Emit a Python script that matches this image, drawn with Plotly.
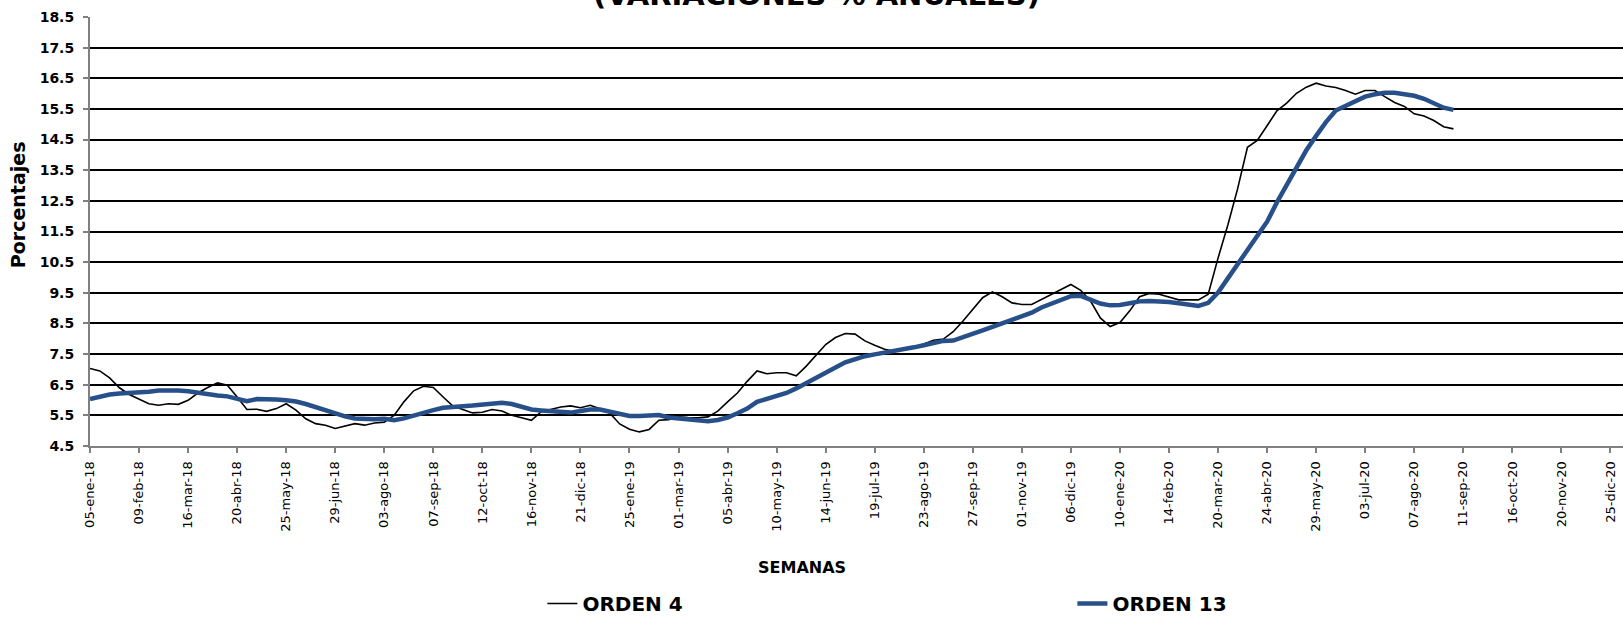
import pandas as pd
import plotly.graph_objects as go

start_date = "2018-01-05"
n_weeks = 140
weeks = pd.date_range(start=start_date, periods=n_weeks, freq="7D")

orden4 = [
    7.03, 6.95, 6.72, 6.40, 6.18, 6.02, 5.88, 5.83, 5.88, 5.86,
    5.99, 6.23, 6.41, 6.56, 6.48, 6.10, 5.69, 5.70, 5.63, 5.72,
    5.88, 5.67, 5.39, 5.23, 5.18, 5.07, 5.14, 5.23, 5.18, 5.25,
    5.28, 5.50, 5.94, 6.30, 6.45, 6.41, 6.10, 5.80, 5.69, 5.58,
    5.60, 5.69, 5.64, 5.50, 5.42, 5.34, 5.62, 5.70, 5.77, 5.81,
    5.75, 5.83, 5.72, 5.57, 5.22, 5.05, 4.96, 5.04, 5.34, 5.36,
    5.45, 5.43, 5.42, 5.45, 5.64, 5.94, 6.23, 6.61, 6.95, 6.86,
    6.89, 6.89, 6.79, 7.10, 7.46, 7.81, 8.04, 8.17, 8.15, 7.93,
    7.79, 7.66, 7.59, 7.68, 7.71, 7.84, 7.95, 7.99, 8.23, 8.58,
    8.96, 9.34, 9.53, 9.37, 9.17, 9.12, 9.12, 9.28, 9.46, 9.61,
    9.77, 9.58, 9.23, 8.68, 8.40, 8.53, 8.91, 9.37, 9.48, 9.45,
    9.37, 9.27, 9.27, 9.27, 9.45, 10.63, 11.71, 12.90, 14.25, 14.47,
    14.95, 15.44, 15.69, 16.01, 16.21, 16.34, 16.25, 16.20, 16.10, 15.98,
    16.10, 16.10, 15.90, 15.71, 15.58, 15.34, 15.27, 15.12, 14.92, 14.85,
]

orden13 = [
    6.03, 6.12, 6.18, 6.21, 6.22, 6.23, 6.27, 6.31, 6.32, 6.31,
    6.29, 6.24, 6.18, 6.15, 6.12, 6.05, 5.96, 6.03, 6.04, 6.02,
    5.99, 5.95, 5.87, 5.77, 5.66, 5.56, 5.47, 5.40, 5.37, 5.37,
    5.39, 5.34, 5.40, 5.50, 5.58, 5.67, 5.75, 5.79, 5.80, 5.82,
    5.85, 5.89, 5.91, 5.87, 5.78, 5.69, 5.66, 5.63, 5.60, 5.59,
    5.64, 5.69, 5.69, 5.61, 5.53, 5.48, 5.48, 5.48, 5.51, 5.43,
    5.40, 5.36, 5.33, 5.31, 5.35, 5.43, 5.57, 5.72, 5.94, 6.03,
    6.12, 6.23, 6.38, 6.54, 6.72, 6.89, 7.06, 7.23, 7.34, 7.43,
    7.49, 7.54, 7.59, 7.65, 7.72, 7.79, 7.86, 7.93, 7.94, 8.04,
    8.15, 8.27, 8.39, 8.50, 8.61, 8.73, 8.85, 9.02, 9.14, 9.26,
    9.39, 9.40, 9.28, 9.15, 9.09, 9.10, 9.16, 9.22, 9.23, 9.23,
    9.20, 9.16, 9.11, 9.07, 9.17, 9.51, 9.97, 10.44, 10.90, 11.35,
    11.82, 12.45, 13.00, 13.60, 14.15, 14.62, 15.07, 15.45, 15.60, 15.76,
    15.90, 15.98, 16.03, 16.03, 15.99, 15.93, 15.83, 15.69, 15.54, 15.47,
]

tick_labels = [
    "05-ene-18", "09-feb-18", "16-mar-18", "20-abr-18", "25-may-18", "29-jun-18",
    "03-ago-18", "07-sep-18", "12-oct-18", "16-nov-18", "21-dic-18", "25-ene-19",
    "01-mar-19", "05-abr-19", "10-may-19", "14-jun-19", "19-jul-19", "23-ago-19",
    "27-sep-19", "01-nov-19", "06-dic-19", "10-ene-20", "14-feb-20", "20-mar-20",
    "24-abr-20", "29-may-20", "03-jul-20", "07-ago-20", "11-sep-20", "16-oct-20",
    "20-nov-20", "25-dic-20",
]
tick_dates = pd.date_range(start=start_date, periods=len(tick_labels), freq="35D")

y_ticks = [4.5, 5.5, 6.5, 7.5, 8.5, 9.5, 10.5, 11.5, 12.5, 13.5, 14.5, 15.5, 16.5, 17.5, 18.5]

FONT = "DejaVu Sans, Arial, sans-serif"

fig = go.Figure()
fig.add_trace(go.Scatter(x=weeks, y=orden4, mode="lines", name="ORDEN 4",
                         line=dict(color="black", width=1.6)))
fig.add_trace(go.Scatter(x=weeks, y=orden13, mode="lines", name="ORDEN 13",
                         line=dict(color="#27508A", width=4.5)))

fig.update_layout(
    width=1623, height=618,
    margin=dict(l=90, r=0, t=17, b=172),
    plot_bgcolor="white", paper_bgcolor="white",
    showlegend=True,
    legend=dict(orientation="h", xref="paper", x=0.2951, xanchor="left",
                yref="container", y=0.0235, yanchor="middle",
                entrywidth=485, entrywidthmode="pixels",
                font=dict(family=FONT, size=20, color="black", weight="bold")),
    xaxis=dict(
        type="date",
        range=["2018-01-05", "2021-01-03"],
        tickvals=tick_dates, ticktext=tick_labels,
        tickangle=-90,
        tickfont=dict(family=FONT, size=13, color="black"),
        ticks="outside", ticklen=5, tickcolor="#808080", tickwidth=1.5,
        ticklabelstandoff=3, ticklabeloverflow="allow",
        showline=True, linecolor="#808080", linewidth=2,
        showgrid=False, zeroline=False, automargin=False,
    ),
    yaxis=dict(
        range=[4.5, 18.5],
        tickvals=y_ticks, ticktext=[f"{v:.1f}" for v in y_ticks],
        tickfont=dict(family=FONT, size=14, color="black", weight="bold"),
        ticks="outside", ticklen=5, tickcolor="#808080", tickwidth=1.5,
        ticklabelstandoff=6,
        showline=True, linecolor="#808080", linewidth=2,
        showgrid=True, gridcolor="black", gridwidth=1.5,
        zeroline=False, automargin=False,
    ),
    annotations=[
        dict(text="(VARIACIONES % ANUALES)", xref="paper", yref="paper",
             x=0.4736, y=1.051, xanchor="center", yanchor="middle", showarrow=False,
             font=dict(family=FONT, size=29, color="black", weight="bold")),
        dict(text="SEMANAS", xref="paper", yref="paper",
             x=0.4645, y=-0.284, xanchor="center", yanchor="middle", showarrow=False,
             font=dict(family=FONT, size=16, color="black", weight="bold")),
        dict(text="Porcentajes", xref="paper", yref="paper", textangle=-90,
             x=-0.047, y=0.5636, xanchor="center", yanchor="middle", showarrow=False,
             font=dict(family=FONT, size=19, color="black", weight="bold")),
    ],
)

fig.write_html("out.html",
               config={"displayModeBar": False},
               post_script="document.body.style.margin='0';document.body.style.overflow='hidden';")
